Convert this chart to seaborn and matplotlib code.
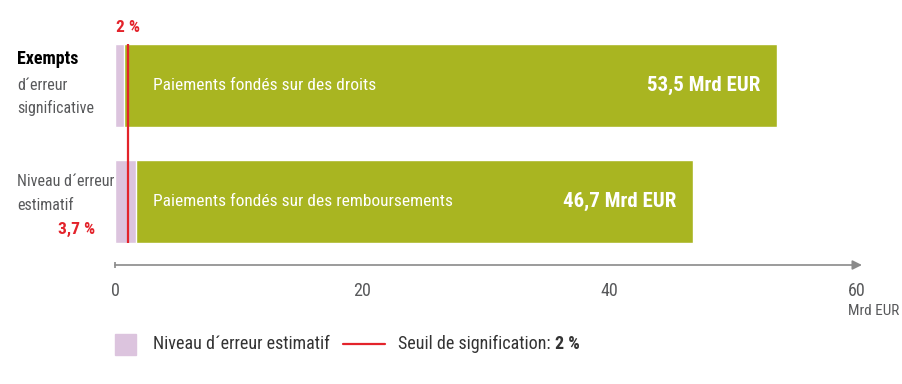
import matplotlib
matplotlib.use("Agg")
import matplotlib.pyplot as plt
import matplotlib.patches as mpatches
import matplotlib.lines as mlines
from matplotlib import font_manager
import seaborn as sns
import pandas as pd

# data
categories = ["Exempts d´erreur significative", "Niveau d´erreur estimatif"]
bar_names = ["Paiements fondés sur des droits", "Paiements fondés sur des remboursements"]
totals = [53.5, 46.7]            # Mrd EUR
value_labels = ["53,5 Mrd EUR", "46,7 Mrd EUR"]
error_part = [0.7, 1.73]         # estimated error level (Mrd EUR)
threshold = 1.07                 # 2 % significance threshold of 53.5
xticks = [0, 20, 40, 60]

GREEN = "#a9b521"
PINK = "#dcc4de"
RED = "#e3232b"
GREY = "#58595b"

sns.set_theme(style="white")

# pick a narrow font if one is around
fonts = font_manager.fontManager.ttflist
names = {f.name for f in fonts}
family = "DejaVu Sans"
stretch = "normal"
for cand in ["Roboto Condensed", "Liberation Sans Narrow", "Open Sans Condensed",
             "Noto Sans Condensed", "Arial Narrow"]:
    if cand in names:
        family = cand
        break
else:
    if any(f.name == "DejaVu Sans" and f.stretch == "condensed" for f in fonts):
        stretch = "condensed"
plt.rcParams["font.family"] = [family, "DejaVu Sans"]
plt.rcParams["font.stretch"] = stretch
narrow = family != "DejaVu Sans" or stretch == "condensed"
k = 1.0 if narrow else 0.8   # shrink text if only the wide font exists

W, H = 902, 384
fig = plt.figure(figsize=(W / 100, H / 100), dpi=100)


def px(x, y):
    return x / W, 1 - y / H


ax = fig.add_axes([115 / W, 1 - 265 / H, 742 / W, 235 / H])

df = pd.DataFrame({"cat": categories, "total": totals, "err": error_part})
bw = 83 / 116
sns.barplot(data=df, x="total", y="cat", orient="h", color=GREEN, width=bw,
            saturation=1, ax=ax)
sns.barplot(data=df, x="err", y="cat", orient="h", color=PINK, width=bw,
            saturation=1, ax=ax)

ax.set_xlim(0, 60)
ax.set_ylim((265 - 85.5) / 116, (30 - 85.5) / 116)
ax.set_xlabel("")
ax.set_ylabel("")
ax.set_yticks([])
for s in ax.spines.values():
    s.set_visible(False)

# threshold line
ax.vlines(threshold, -bw / 2, 1 + bw / 2, color=RED, lw=1.6, zorder=5)
ax.text(threshold, (27.5 - 85.5) / 116, "2 %", color=RED, fontsize=12.5 * k,
        fontweight="bold", ha="center", va="center", clip_on=False)

# texts inside bars
for i in range(len(categories)):
    ax.text(3.1, i, bar_names[i], color="white", fontsize=12.5 * k, va="center", ha="left")
    ax.text(totals[i] - 1.3, i, value_labels[i], color="white", fontsize=15 * k,
            fontweight="bold", va="center", ha="right")

# x axis with arrow
ybot = ax.get_ylim()[0]
ax.annotate("", xy=(60.4, ybot), xytext=(0, ybot), xycoords="data",
            arrowprops=dict(arrowstyle="-|>", color="#8a8a8a", lw=1.2,
                            mutation_scale=14, shrinkA=0, shrinkB=0),
            annotation_clip=False)
ax.set_xticks(xticks)
ax.set_xticklabels([str(t) for t in xticks], color=GREY, fontsize=13 * k)
ax.tick_params(axis="x", length=0, pad=12)
ax.vlines(0, ybot - 0.028, ybot + 0.025, color="#8a8a8a", lw=1.2, clip_on=False)
fig.text(*px(848, 311), "Mrd EUR", color=GREY, fontsize=11 * k, ha="left", va="center")

# left labels
fig.text(*px(17, 59), "Exempts", color="black", fontsize=13 * k, fontweight="bold", va="center")
fig.text(*px(17, 85), "d´erreur", color=GREY, fontsize=11.5 * k, va="center")
fig.text(*px(17, 108), "significative", color=GREY, fontsize=11.5 * k, va="center")
fig.text(*px(17, 181), "Niveau d´erreur", color=GREY, fontsize=11.5 * k, va="center")
fig.text(*px(17, 205), "estimatif", color=GREY, fontsize=11.5 * k, va="center")
fig.text(*px(95, 229), "3,7 %", color=RED, fontsize=12.5 * k, fontweight="bold",
         ha="right", va="center")

# legend
fig.patches.append(mpatches.Rectangle(px(115, 355), 21 / W, 21 / H, color=PINK,
                                      transform=fig.transFigure, figure=fig))
fig.text(*px(153, 344), "Niveau d´erreur estimatif", color="#333333", fontsize=13 * k,
         va="center")
fig.lines.append(mlines.Line2D([343 / W, 385 / W], [1 - 344 / H] * 2, color=RED, lw=1.6,
                               transform=fig.transFigure, figure=fig))
t = fig.text(*px(398, 344), "Seuil de signification: ", color="#333333", fontsize=13 * k,
             va="center")
fig.canvas.draw()
bb = t.get_window_extent()
fig.text(bb.x1 / W, 1 - 344 / H, "2 %", color="#333333", fontsize=13 * k,
         fontweight="bold", va="center")

fig.savefig("out.png", dpi=100)
